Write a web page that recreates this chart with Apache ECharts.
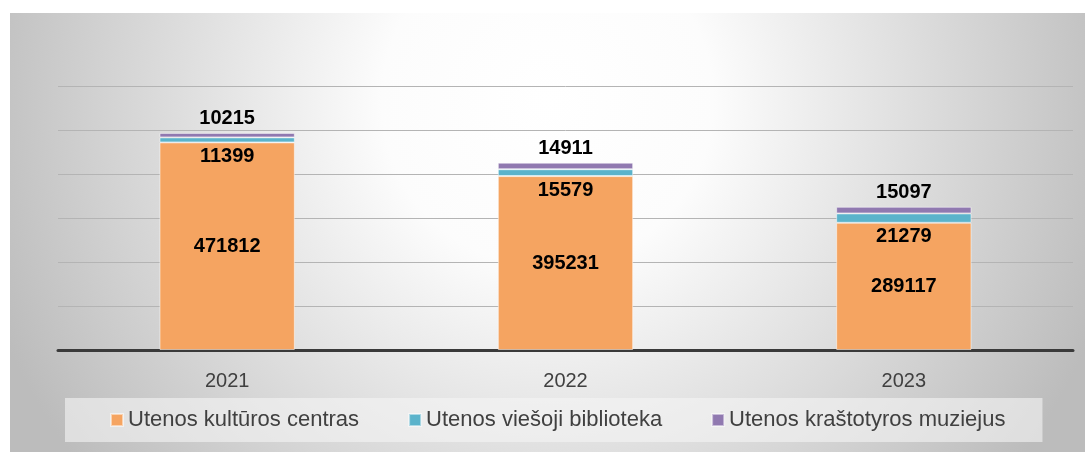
<!DOCTYPE html>
<html><head><meta charset="utf-8">
<script src="https://cdn.jsdelivr.net/npm/echarts@6/dist/echarts.min.js"></script>
<style>
html,body{margin:0;padding:0;background:#fff;}
#c{position:absolute;left:10px;top:13px;width:1075px;height:439px;}
</style></head>
<body><div id="c"></div>
<script>
const categories = ['2021', '2022', '2023'];
const kulturosCentras = [471812, 395231, 289117];
const viesojiBiblioteka = [11399, 15579, 21279];
const krastotyrosMuziejus = [10215, 14911, 15097];
const seriesNames = ['Utenos kultūros centras', 'Utenos viešoji biblioteka', 'Utenos kraštotyros muziejus'];

const font = 'Liberation Sans, Arial, sans-serif';
const chart = echarts.init(document.getElementById('c'), null, {renderer: 'canvas'});
const lbl = (pos) => ({show: true, position: pos, distance: 4, color: '#000', fontWeight: 'bold', fontSize: 20, fontFamily: font});
chart.setOption({
  animation: false,
  backgroundColor: {type: 'radial', x: 0.5, y: 0.2, r: 1.35, colorStops: [
    {offset: 0, color: '#ffffff'}, {offset: 0.28, color: '#fcfcfc'}, {offset: 1, color: '#bcbcbc'}]},
  grid: {left: 48, right: 12, top: 73, bottom: 102},
  legend: {
    bottom: 10, left: 55,
    padding: [11, 37, 11, 45],
    backgroundColor: 'rgba(245,245,245,0.6)',
    itemWidth: 12, itemHeight: 12, itemGap: 49,
    icon: 'rect',
    textStyle: {color: '#404040', fontSize: 22, fontFamily: font},
    data: seriesNames
  },
  xAxis: {
    type: 'category', data: categories,
    axisLine: {lineStyle: {color: '#3a3a3a', width: 3}},
    axisTick: {show: false},
    axisLabel: {color: '#404040', fontSize: 20, fontFamily: font, margin: 21}
  },
  yAxis: {
    type: 'value', min: 0, max: 600000, interval: 100000,
    axisLabel: {show: false}, axisLine: {show: false}, axisTick: {show: false},
    splitLine: {lineStyle: {color: '#b4b4b4', width: 1}}
  },
  series: [
    {name: seriesNames[0], type: 'bar', stack: 't', data: kulturosCentras, barWidth: '40%',
     itemStyle: {color: '#F5A461', borderColor: 'rgba(255,255,255,0.5)', borderWidth: 1}, label: lbl('inside')},
    {name: seriesNames[1], type: 'bar', stack: 't', data: viesojiBiblioteka,
     itemStyle: {color: '#5BB3CB', borderColor: 'rgba(255,255,255,0.5)', borderWidth: 1}, label: lbl('bottom')},
    {name: seriesNames[2], type: 'bar', stack: 't', data: krastotyrosMuziejus,
     itemStyle: {color: '#9079B0', borderColor: 'rgba(255,255,255,0.5)', borderWidth: 1}, label: lbl('top')}
  ]
});
</script></body></html>
